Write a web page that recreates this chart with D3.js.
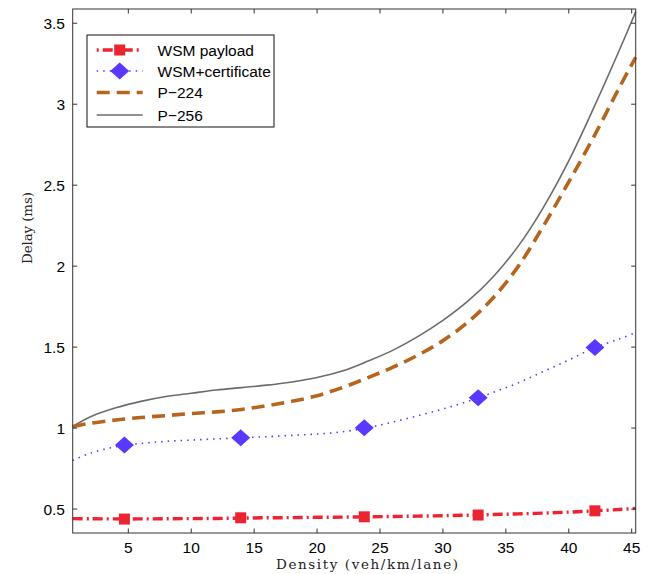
<!DOCTYPE html>
<html><head><meta charset="utf-8">
<script src="https://cdn.jsdelivr.net/npm/d3@7"></script>
<style>body{margin:0;background:#fff}svg{display:block}</style>
</head><body>
<svg id="chart" width="653" height="574"></svg>
<script>
// ---- data ----
const density = [0.58, 2, 4, 6, 8, 10, 12, 14, 16, 18, 20, 22, 24, 26, 28, 30, 32, 34, 36, 38, 40, 42, 44, 45.32];
const p256    = [1.01, 1.07, 1.125, 1.165, 1.195, 1.215, 1.235, 1.25, 1.265, 1.285, 1.312, 1.352, 1.412, 1.48, 1.565, 1.665, 1.785, 1.935, 2.125, 2.365, 2.65, 2.98, 3.33, 3.57];
const p224    = [1.01, 1.03, 1.05, 1.065, 1.077, 1.09, 1.10, 1.115, 1.138, 1.165, 1.20, 1.25, 1.31, 1.375, 1.45, 1.54, 1.655, 1.805, 2.00, 2.25, 2.52, 2.80, 3.10, 3.29];
const wsmCert = [0.80, 0.845, 0.885, 0.905, 0.918, 0.926, 0.933, 0.94, 0.947, 0.955, 0.963, 0.977, 1.002, 1.037, 1.076, 1.118, 1.165, 1.22, 1.28, 1.35, 1.42, 1.495, 1.55, 1.59];
const wsmPay  = [0.441, 0.440, 0.439, 0.439, 0.440, 0.441, 0.442, 0.444, 0.446, 0.447, 0.449, 0.450, 0.452, 0.454, 0.456, 0.459, 0.462, 0.466, 0.470, 0.475, 0.481, 0.489, 0.497, 0.504];
const markerX    = [4.69, 13.93, 23.75, 32.8, 42.08];
const markerPay  = [0.438, 0.446, 0.452, 0.463, 0.489];
const markerCert = [0.895, 0.940, 1.002, 1.187, 1.498];
const xTicks = [5, 10, 15, 20, 25, 30, 35, 40, 45];
const yTicks = [0.5, 1, 1.5, 2, 2.5, 3, 3.5];
const seriesNames = ["WSM payload", "WSM+certificate", "P\u2212224", "P\u2212256"];

// ---- layout ----
const svg = d3.select("#chart");
const L = 72.7, R = 635.7, T = 9, B = 533;
const x = d3.scaleLinear().domain([0.58, 45.32]).range([L, R]);
const y = d3.scaleLinear().domain([0.352, 3.588]).range([B, T]);

const RED = "#ec2330", BLUE = "#5a38ff", BROWN = "#b5651d", GREY = "#6b6b6b";
const tickFont = "'Liberation Sans', Arial, Helvetica, sans-serif";

const line = d3.line().x(d => x(d[0])).y(d => y(d[1])).curve(d3.curveCatmullRom.alpha(0.5));
const pts = vals => density.map((d, i) => [d, vals[i]]);

const plot = svg.append("g");
plot.append("path").attr("d", line(pts(p256))).attr("fill", "none").attr("stroke", GREY).attr("stroke-width", 1.6);
plot.append("path").attr("d", line(pts(p224))).attr("fill", "none").attr("stroke", BROWN).attr("stroke-width", 3.6).attr("stroke-dasharray", "13,7");
plot.append("path").attr("d", line(pts(wsmCert))).attr("fill", "none").attr("stroke", BLUE).attr("stroke-width", 1.6).attr("stroke-dasharray", "1.5,5");
plot.append("path").attr("d", line(pts(wsmPay))).attr("fill", "none").attr("stroke", RED).attr("stroke-width", 3.4).attr("stroke-dasharray", "10,4,2,4");

const diamond = (cx, cy, w, h) => `M${cx},${cy - h / 2}L${cx + w / 2},${cy}L${cx},${cy + h / 2}L${cx - w / 2},${cy}Z`;
plot.selectAll(".dia").data(markerX.map((d, i) => [d, markerCert[i]])).enter().append("path")
  .attr("d", d => diamond(x(d[0]), y(d[1]), 19, 17)).attr("fill", BLUE);
plot.selectAll(".sq").data(markerX.map((d, i) => [d, markerPay[i]])).enter().append("rect")
  .attr("x", d => x(d[0]) - 5.5).attr("y", d => y(d[1]) - 5.5).attr("width", 11).attr("height", 11).attr("fill", RED);

// ---- axes box & ticks ----
const AX = "#333";
svg.append("rect").attr("x", L).attr("y", T).attr("width", R - L).attr("height", B - T)
  .attr("fill", "none").attr("stroke", AX).attr("stroke-width", 1);
const tickLen = 4.5;
xTicks.forEach(t => {
  svg.append("line").attr("x1", x(t)).attr("x2", x(t)).attr("y1", B).attr("y2", B - tickLen).attr("stroke", AX);
  svg.append("line").attr("x1", x(t)).attr("x2", x(t)).attr("y1", T).attr("y2", T + tickLen).attr("stroke", AX);
  svg.append("text").attr("x", x(t)).attr("y", 553).attr("text-anchor", "middle")
    .attr("font-family", tickFont).attr("font-size", 15.5).attr("fill", "#000").text(t);
});
yTicks.forEach(t => {
  svg.append("line").attr("x1", L).attr("x2", L + tickLen).attr("y1", y(t)).attr("y2", y(t)).attr("stroke", AX);
  svg.append("line").attr("x1", R).attr("x2", R - tickLen).attr("y1", y(t)).attr("y2", y(t)).attr("stroke", AX);
  svg.append("text").attr("x", 65).attr("y", y(t) + 5.5).attr("text-anchor", "end")
    .attr("font-family", tickFont).attr("font-size", 15.5).attr("fill", "#000").text(t);
});

// ---- axis labels ----
svg.append("text").attr("x", 367).attr("y", 569).attr("text-anchor", "middle")
  .attr("font-family", "'DejaVu Serif', 'Liberation Serif', serif").attr("font-size", 13.5)
  .attr("textLength", 182).attr("lengthAdjust", "spacing").attr("fill", "#222").text("Density (veh/km/lane)");
svg.append("text").attr("transform", "translate(31.5,228) rotate(-90)").attr("text-anchor", "middle")
  .attr("font-family", "'DejaVu Serif', 'Liberation Serif', serif").attr("font-size", 13.5)
  .attr("textLength", 72).attr("lengthAdjust", "spacing").attr("fill", "#222").text("Delay (ms)");

// ---- legend ----
const lg = svg.append("g");
lg.append("rect").attr("x", 87).attr("y", 35).attr("width", 187).attr("height", 92)
  .attr("fill", "#fff").attr("stroke", "#111").attr("stroke-width", 1);
const rowsY = [50, 71, 92.5, 115];
const lx1 = 96.7, lx2 = 142.7, lmx = (lx1 + lx2) / 2;
lg.append("line").attr("x1", lx1).attr("x2", lx2).attr("y1", rowsY[0]).attr("y2", rowsY[0]).attr("stroke", RED).attr("stroke-width", 3.4).attr("stroke-dasharray", "2,4,10,4");
lg.append("rect").attr("x", lmx - 5.5).attr("y", rowsY[0] - 5.5).attr("width", 11).attr("height", 11).attr("fill", RED);
lg.append("line").attr("x1", lx1).attr("x2", lx2).attr("y1", rowsY[1]).attr("y2", rowsY[1]).attr("stroke", BLUE).attr("stroke-width", 1.6).attr("stroke-dasharray", "1.5,5");
lg.append("path").attr("d", diamond(lmx, rowsY[1], 19, 17)).attr("fill", BLUE);
lg.append("line").attr("x1", lx1).attr("x2", lx2).attr("y1", rowsY[2]).attr("y2", rowsY[2]).attr("stroke", BROWN).attr("stroke-width", 3.6).attr("stroke-dasharray", "13,7");
lg.append("line").attr("x1", lx1).attr("x2", lx2).attr("y1", rowsY[3]).attr("y2", rowsY[3]).attr("stroke", GREY).attr("stroke-width", 1.6);
seriesNames.forEach((n, i) => {
  lg.append("text").attr("x", 157.5).attr("y", rowsY[i] + 5.5).attr("font-family", tickFont)
    .attr("font-size", 15.5).attr("fill", "#000").text(n);
});
</script>
</body></html>
